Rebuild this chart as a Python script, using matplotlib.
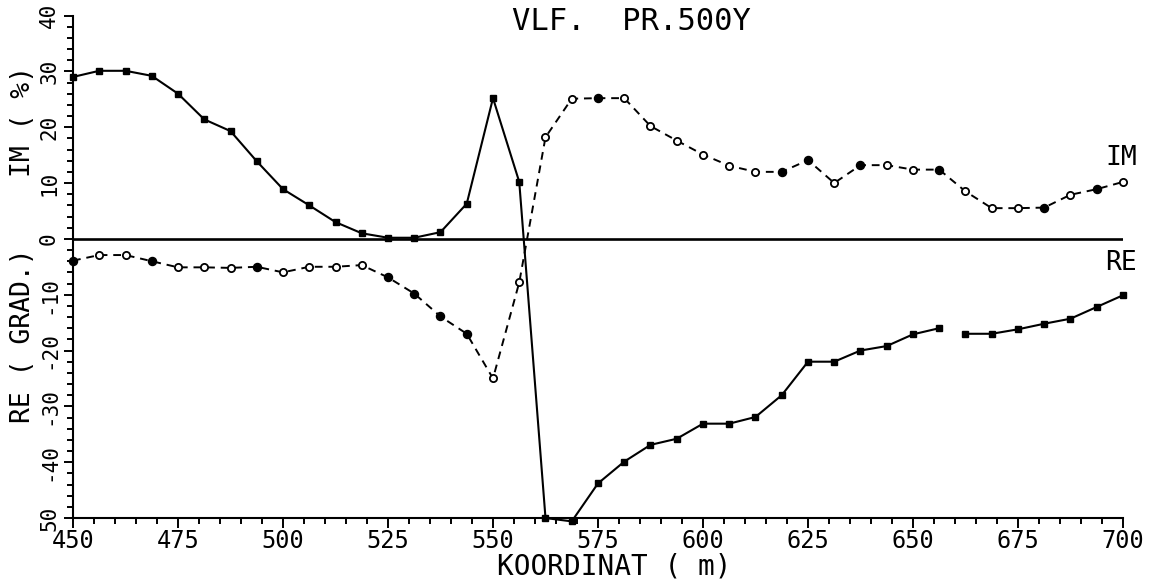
import matplotlib
matplotlib.use("Agg")
import matplotlib.pyplot as plt
import numpy as np

# Profile stations (m), one reading every 6.25 m
koordinat = [450 + 6.25 * i for i in range(41)]

# Solid curve (square markers), labelled "RE" at the right end
re_vals = [29.0, 30.1, 30.1, 29.2, 26.0, 21.4, 19.3, 13.9, 8.9, 6.0,
           3.0, 1.0, 0.2, 0.2, 1.2, 6.3, 25.2, 10.2, -50.0, -50.6,
           -43.8, -39.9, -36.9, -35.8, -33.1, -33.1, -31.9, -28.0, -22.0, -22.0,
           -20.0, -19.2, -17.1, -16.0, -17.0, -17.0, -16.2, -15.2, -14.3, -12.2,
           -10.1]

# Dashed curve (circle markers), labelled "IM" at the right end
im_vals = [-3.9, -2.9, -2.9, -4.0, -5.1, -5.1, -5.2, -5.0, -6.0, -5.0,
           -5.0, -4.7, -6.9, -9.8, -13.9, -17.0, -25.0, -7.8, 18.2, 25.1,
           25.2, 25.2, 20.2, 17.6, 15.1, 13.1, 12.0, 12.0, 14.1, 10.0,
           13.2, 13.2, 12.4, 12.4, 8.5, 5.5, 5.5, 5.6, 7.9, 8.9,
           10.2]

# Which circle markers were plotted filled
im_filled = [1, 0, 0, 1, 0, 0, 0, 1, 0, 0,
             0, 0, 1, 1, 1, 1, 0, 0, 0, 0,
             1, 0, 0, 0, 0, 0, 0, 1, 1, 0,
             1, 0, 0, 1, 0, 0, 0, 1, 0, 1,
             0]

# Pen lifted between these two stations on the solid curve
re_gap_after = 656.25

y_ticks = [40, 30, 20, 10, 0, -10, -20, -30, -40, -50]
y_ticklabels = ["40", "30", "20", "10", "0", "-10", "-20", "-30", "-40", "50"]
x_ticks = [450, 475, 500, 525, 550, 575, 600, 625, 650, 675, 700]

FONT = "DejaVu Sans Mono"
plt.rcParams["font.family"] = FONT

fig = plt.figure(figsize=(11.57, 5.86), dpi=100)
ax = fig.add_axes([0.0631, 0.116, 0.9075, 0.8575])

x = np.array(koordinat)
re = np.array(re_vals)
im = np.array(im_vals)
filled = np.array(im_filled, dtype=bool)

# zero line
ax.plot([koordinat[0], koordinat[-1]], [0, 0], color="black", lw=1.9, zorder=2)

# solid curve drawn in two pen strokes
k = int(np.searchsorted(x, re_gap_after)) + 1
for xs, ys in ((x[:k], re[:k]), (x[k:], re[k:])):
    ax.plot(xs, ys, color="black", lw=1.5, marker="s", markersize=5.0,
            markerfacecolor="black", markeredgecolor="black",
            clip_on=False, zorder=3)

# dashed curve with filled / open circles
ax.plot(x, im, color="black", lw=1.4, dashes=(4, 3), zorder=3, clip_on=False)
ax.plot(x[filled], im[filled], ls="none", marker="o", markersize=5.8,
        markerfacecolor="black", markeredgecolor="black", zorder=4, clip_on=False)
ax.plot(x[~filled], im[~filled], ls="none", marker="o", markersize=5.2,
        markerfacecolor="white", markeredgecolor="black", markeredgewidth=1.3,
        zorder=4, clip_on=False)

ax.set_xlim(450, 700)
ax.set_ylim(-50, 40)

for side in ("top", "right"):
    ax.spines[side].set_visible(False)
for side in ("left", "bottom"):
    ax.spines[side].set_linewidth(1.5)

ax.set_xticks(x_ticks)
ax.set_xticklabels([str(t) for t in x_ticks], fontsize=17)
ax.set_xticks(np.arange(450, 701, 5), minor=True)
ax.set_yticks(y_ticks)
ax.set_yticklabels(y_ticklabels, fontsize=15, rotation=90, va="center")
ax.set_yticks(np.arange(-50, 41, 2), minor=True)

ax.tick_params(axis="x", which="major", direction="out", length=7, width=1.4, pad=1)
ax.tick_params(axis="x", which="minor", direction="out", length=4, width=1.4)
ax.tick_params(axis="y", which="major", direction="out", length=6.5, width=1.4, pad=3.5)
ax.tick_params(axis="y", which="minor", direction="out", length=4, width=1.4)

# titles and axis captions
fig.text(0.546, 0.964, "VLF.  PR.500Y", fontsize=22, ha="center", va="center")
fig.text(0.531, 0.034, "KOORDINAT ( m)", fontsize=20, ha="center", va="center")
fig.text(0.0199, 0.792, "IM ( %)", fontsize=19, rotation=90, ha="center", va="center")
fig.text(0.0199, 0.428, "RE ( GRAD.)", fontsize=19, rotation=90, ha="center", va="center")

# curve labels at the right end
fig.text(1121 / 1157, 1 - 158 / 586, "IM", fontsize=19, ha="center", va="center")
fig.text(1121 / 1157, 1 - 263 / 586, "RE", fontsize=19, ha="center", va="center")

fig.savefig("out.png", dpi=100)
